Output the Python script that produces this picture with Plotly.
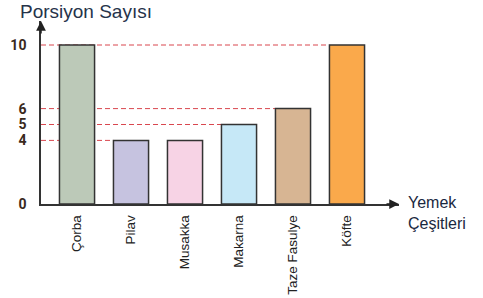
import plotly.graph_objects as go

categories = ["Çorba", "Pilav", "Musakka", "Makarna", "Taze Fasulye", "Köfte"]
values = [10, 4, 4, 5, 6, 10]
bar_colors = ["#bcc9b8", "#c6c3e0", "#f7d3e5", "#c6e8f7", "#d7b593", "#faa94b"]
tick_vals = [0, 4, 5, 6, 10]
guide_values = [10, 6, 5, 4]
guide_targets = ["Köfte", "Taze Fasulye", "Makarna", "Pilav"]

BAR_W = 0.65
X_RANGE = [-0.667, 5.963]
Y_RANGE = [0, 11.51]

xs = list(range(len(categories)))

fig = go.Figure()
fig.add_trace(go.Bar(
    x=xs, y=values, width=BAR_W,
    marker=dict(color=bar_colors, line=dict(color="#333333", width=1.5)),
    hoverinfo="skip",
))

shapes = []
for v, t in zip(guide_values, guide_targets):
    i = categories.index(t)
    shapes.append(dict(type="line", xref="x", yref="y", x0=X_RANGE[0], x1=i - BAR_W / 2,
                       y0=v, y1=v, layer="below",
                       line=dict(color="#d9474f", width=1, dash="5px,3px")))

annotations = [
    dict(xref="paper", yref="paper", x=0, y=1, ax=0, ay=14, axref="pixel", ayref="pixel",
         text="", showarrow=True, arrowhead=2, arrowsize=1.3, arrowwidth=1.5, arrowcolor="#222222"),
    dict(xref="paper", yref="paper", x=1, y=0, ax=-14, ay=0, axref="pixel", ayref="pixel",
         text="", showarrow=True, arrowhead=2, arrowsize=1.3, arrowwidth=1.5, arrowcolor="#222222"),
    dict(xref="paper", yref="paper", x=1.02, y=-0.05, xanchor="left", yanchor="middle",
         text="Yemek<br>Çeşitleri", showarrow=False, align="left",
         font=dict(family="Liberation Sans, Arial, sans-serif", size=16, color="#1a2840")),
]

fig.update_layout(
    width=483, height=298,
    margin=dict(l=41, r=84, t=21, b=94),
    paper_bgcolor="white", plot_bgcolor="white",
    showlegend=False,
    title=dict(text="Porsiyon Sayısı", x=20 / 483, xanchor="left", y=1 - 11 / 298, yanchor="middle",
               font=dict(family="Liberation Sans, Arial, sans-serif", size=19, color="#26334a")),
    shapes=shapes,
    annotations=annotations,
    xaxis=dict(range=X_RANGE, tickvals=xs, ticktext=categories, tickangle=-90, automargin=False,
               showline=True, linecolor="#333333", linewidth=1.5, showgrid=False, zeroline=False,
               ticks="", ticklabelstandoff=4,
               tickfont=dict(family="Liberation Sans, Arial, sans-serif",
                             size=13.5, color="#222222")),
    yaxis=dict(range=Y_RANGE, tickvals=tick_vals, ticktext=[f"<b>{v}</b>" for v in tick_vals],
               automargin=False, showline=True, linecolor="#333333", linewidth=1.5,
               showgrid=False, zeroline=False, ticks="", ticklabelstandoff=10,
               tickfont=dict(family="Roboto, Liberation Sans, sans-serif", size=14, color="#3a2a1c")),
)

fig.write_html("out.html", config={"displayModeBar": False},
               post_script="document.body.style.margin='0';document.body.style.overflow='hidden';")
